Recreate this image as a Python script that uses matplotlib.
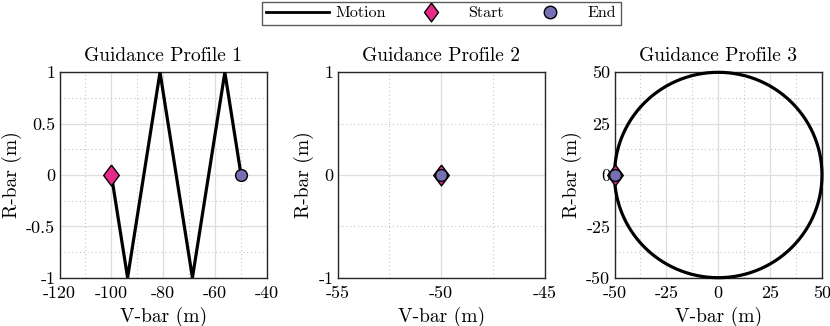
import numpy as np
import matplotlib
matplotlib.use("Agg")
import matplotlib.pyplot as plt
from matplotlib.lines import Line2D

plt.rcParams['font.family'] = ['cmr10', 'DejaVu Serif']
plt.rcParams['mathtext.fontset'] = 'cm'
plt.rcParams['axes.unicode_minus'] = False

# Profile 1: zigzag motion
p1_vbar = [-100, -93.75, -81.25, -68.75, -56.25, -50]
p1_rbar = [0, -1, 1, -1, 1, 0]
p1_start = (-100, 0)
p1_end = (-50, 0)

# Profile 2: stationary
p2_vbar = [-50, -50]
p2_rbar = [0, 0]
p2_start = (-50, 0)
p2_end = (-50, 0)

# Profile 3: circle of radius 50
p3_radius = 50
p3_theta = np.linspace(np.pi, 3 * np.pi, 361)
p3_vbar = p3_radius * np.cos(p3_theta)
p3_rbar = p3_radius * np.sin(p3_theta)
p3_start = (-50, 0)
p3_end = (-50, 0)

titles = ["Guidance Profile 1", "Guidance Profile 2", "Guidance Profile 3"]
xlims = [(-120, -40), (-55, -45), (-50, 50)]
ylims = [(-1, 1), (-1, 1), (-50, 50)]
xticks = [[-120, -100, -80, -60, -40], [-55, -50, -45], [-50, -25, 0, 25, 50]]
yticks = [[-1, -0.5, 0, 0.5, 1], [-1, 0, 1], [-50, -25, 0, 25, 50]]
xtl = [["-120", "-100", "-80", "-60", "-40"], ["-55", "-50", "-45"], ["-50", "-25", "0", "25", "50"]]
ytl = [["-1", "-0.5", "0", "0.5", "1"], ["-1", "0", "1"], ["-50", "-25", "0", "25", "50"]]
xminor = [[-110, -90, -70, -50], [-52.5, -47.5], [-37.5, -12.5, 12.5, 37.5]]
yminor = [[-0.75, -0.25, 0.25, 0.75], [-0.5, 0.5], [-37.5, -12.5, 12.5, 37.5]]

data = [(p1_vbar, p1_rbar, p1_start, p1_end),
        (p2_vbar, p2_rbar, p2_start, p2_end),
        (p3_vbar, p3_rbar, p3_start, p3_end)]

pink = "#E7298A"
purple = "#7570B3"
diamond = [(0, 1), (0.75, 0), (0, -1), (-0.75, 0), (0, 1)]

fig = plt.figure(figsize=(8.3, 3.26), dpi=100)
W, H = 830, 326
lefts = [59.5, 337.5, 614.5]
widths = [207.5, 207.5, 207.5]
top, bottom = 72.3, 277.7

for i in range(3):
    ax = fig.add_axes([lefts[i] / W, 1 - bottom / H, widths[i] / W, (bottom - top) / H])
    vx, ry, st, en = data[i]
    ax.set_xlim(*xlims[i])
    ax.set_ylim(*ylims[i])
    ax.set_xticks(xticks[i])
    ax.set_xticklabels(xtl[i])
    ax.set_yticks(yticks[i])
    ax.set_yticklabels(ytl[i])
    ax.set_xticks(xminor[i], minor=True)
    ax.set_yticks(yminor[i], minor=True)
    ax.grid(True, which='major', color='#dedede', linewidth=0.9, linestyle='-')
    ax.grid(True, which='minor', color='#c4c4c4', linewidth=0.8, linestyle=(0, (1, 2.5)))
    ax.set_axisbelow(True)
    ax.tick_params(which='both', direction='in', length=0, labelsize=13)
    ax.tick_params(axis='x', pad=6)
    ax.tick_params(axis='y', pad=3)
    for s in ax.spines.values():
        s.set_linewidth(1.0)
        s.set_color('#262626')
    ax.plot(vx, ry, color='black', linewidth=2.3, solid_joinstyle='miter', zorder=3, clip_on=False)
    ax.plot([st[0]], [st[1]], marker=diamond, markersize=15, markerfacecolor=pink,
            markeredgecolor='black', markeredgewidth=1.0, linestyle='none', zorder=4, clip_on=False)
    ax.plot([en[0]], [en[1]], marker='o', markersize=8.5, markerfacecolor=purple,
            markeredgecolor='black', markeredgewidth=1.0, linestyle='none', zorder=5, clip_on=False)
    ax.set_title(titles[i], fontsize=14, pad=8)
    ax.set_xlabel("V-bar (m)", fontsize=14, labelpad=4)
    ax.set_ylabel("R-bar (m)", fontsize=14, labelpad=3)

handles = [Line2D([0], [0], color='black', linewidth=2),
           Line2D([0], [0], marker=diamond, color='none', markerfacecolor=pink, markeredgecolor='black', markersize=13.5),
           Line2D([0], [0], marker='o', color='none', markerfacecolor=purple, markeredgecolor='black', markersize=9)]
leg = fig.legend(handles, ["Motion", "Start", "End"], loc='upper center', bbox_to_anchor=(441 / W, 1 - 1.5 / H),
                 ncol=3, frameon=True, fancybox=False, fontsize=11.5, handlelength=3.9,
                 columnspacing=0.9, handletextpad=0.4, borderpad=0.3, borderaxespad=0, edgecolor='#333333')
leg.get_frame().set_linewidth(1.0)

fig.savefig("out.png", dpi=100)
